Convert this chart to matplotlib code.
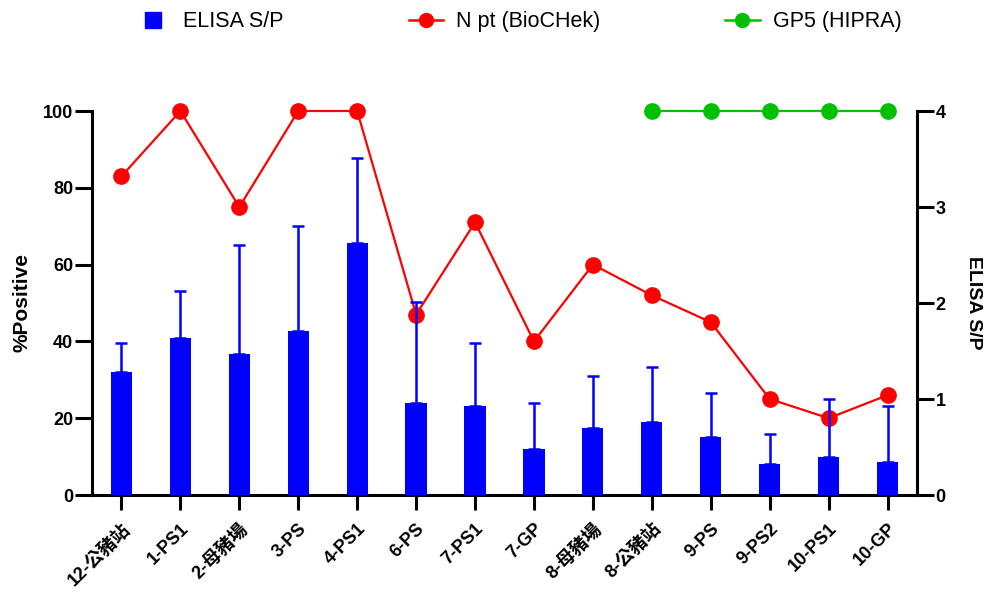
import numpy as np
import matplotlib
matplotlib.use("Agg")
import matplotlib.pyplot as plt
from matplotlib.lines import Line2D

plt.rcParams['font.family'] = ['Liberation Sans', 'Noto Sans CJK TC', 'DejaVu Sans']

groups = ["12-公豬站", "1-PS1", "2-母豬場", "3-PS", "4-PS1", "6-PS", "7-PS1",
          "7-GP", "8-母豬場", "8-公豬站", "9-PS", "9-PS2", "10-PS1", "10-GP"]

# ELISA S/P mean and SD (right axis)
elisa_sp = [1.28, 1.64, 1.47, 1.71, 2.63, 0.96, 0.93, 0.48, 0.70, 0.76, 0.60, 0.32, 0.40, 0.34]
elisa_sd = [0.30, 0.49, 1.13, 1.09, 0.88, 1.05, 0.65, 0.48, 0.54, 0.57, 0.46, 0.32, 0.60, 0.59]

# % positive (left axis)
npt_pos = [83, 100, 75, 100, 100, 47, 71, 40, 60, 52, 45, 25, 20, 26]
gp5_groups = ["8-公豬站", "9-PS", "9-PS2", "10-PS1", "10-GP"]
gp5_pos = [100, 100, 100, 100, 100]

fig = plt.figure(figsize=(9.88, 5.93), dpi=100)
ax = fig.add_axes([92/988, 98/593, 825/988, 384/593])
ax2 = ax.twinx()

x = np.arange(len(groups))
gx = np.array([groups.index(g) for g in gp5_groups])

ax.plot(x, npt_pos, color='#ff0000', lw=1.6, marker='o', ms=11, clip_on=False, zorder=3)
ax.plot(gx, gp5_pos, color='#00c000', lw=1.6, marker='o', ms=11, clip_on=False, zorder=3)

ax2.bar(x, elisa_sp, width=0.36, color='#0000ff', zorder=2)
ax2.errorbar(x, elisa_sp, yerr=[np.zeros(len(x)), elisa_sd], fmt='none',
             ecolor='#0000ff', elinewidth=1.8, capsize=4, capthick=1.8, zorder=3)

ax.set_xlim(-0.5, 13.5)
ax.set_ylim(0, 100)
ax2.set_ylim(0, 4)
ax.set_yticks([0, 20, 40, 60, 80, 100])
ax2.set_yticks([0, 1, 2, 3, 4])
ax.set_xticks(x)
ax.set_xticklabels(groups, rotation=45, ha='right', rotation_mode='anchor',
                   fontsize=13, fontweight='bold')

for a in (ax, ax2):
    for s in a.spines.values():
        s.set_linewidth(2.2)
    a.spines['top'].set_visible(False)
    a.tick_params(axis='y', width=2.2, length=12, labelsize=13, pad=1.5)
    for lbl in a.get_yticklabels():
        lbl.set_fontweight('bold')
ax.tick_params(axis='x', width=2.2, length=11, pad=7)
ax2.spines['left'].set_visible(False)
ax2.spines['bottom'].set_visible(False)
ax.spines['right'].set_visible(False)

ax.set_ylabel("%Positive", fontsize=15, fontweight='bold', labelpad=8)
ax2.set_ylabel("ELISA S/P", fontsize=14, fontweight='bold', rotation=270, labelpad=26)

handles = [
    Line2D([], [], color='#0000ff', lw=0, marker='s', ms=12),
    Line2D([], [], color='#ff0000', lw=1.8, marker='o', ms=10),
    Line2D([], [], color='#00c000', lw=1.8, marker='o', ms=10),
]
fig.legend(handles, ["ELISA S/P", "N pt (BioCHek)", "GP5 (HIPRA)"], ncol=3,
           loc='center', bbox_to_anchor=(0.525, 0.963), frameon=False, fontsize=15.5,
           columnspacing=5.8, handlelength=1.6, handletextpad=0.6)

fig.savefig("out.png", dpi=100)
